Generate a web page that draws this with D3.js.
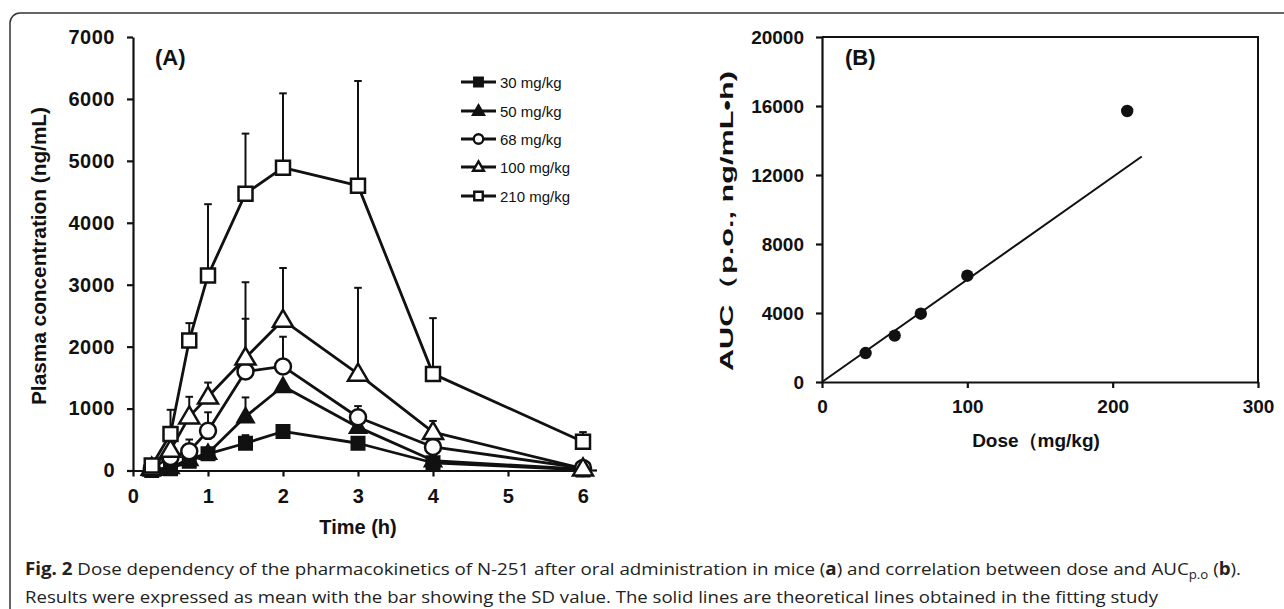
<!DOCTYPE html>
<html><head><meta charset="utf-8">
<script src="https://cdn.jsdelivr.net/npm/d3@7"></script>
<style>
html,body{margin:0;padding:0;background:#fff;}
svg{display:block;}
</style></head>
<body>
<svg id="c" width="1284" height="609"></svg>
<script>
// ---------- Data ----------
const times = [0.25, 0.5, 0.75, 1, 1.5, 2, 3, 4, 6];
const xTicksA = [0, 1, 2, 3, 4, 5, 6];
const yTicksA = [0, 1000, 2000, 3000, 4000, 5000, 6000, 7000];

const doseLabels = ["30 mg/kg", "50 mg/kg", "68 mg/kg", "100 mg/kg", "210 mg/kg"];
const conc30  = [0, 30, 150, 270, 440, 630, 440, 125, 10];
const sd30    = [0, 0, 0, 0, 130, 70, 0, 0, 0];
const conc50  = [10, 50, 180, 280, 870, 1360, 700, 160, 20];
const sd50    = [0, 0, 0, 0, 310, 0, 0, 0, 0];
const conc68  = [30, 220, 310, 640, 1600, 1680, 860, 380, 40];
const sd68    = [0, 0, 190, 300, 850, 480, 180, 0, 0];
const conc100 = [40, 330, 870, 1190, 1820, 2430, 1560, 620, 30];
const sd100   = [0, 0, 320, 230, 1220, 840, 1390, 180, 0];
const conc210 = [80, 590, 2100, 3150, 4470, 4890, 4600, 1560, 465];
const sd210   = [0, 390, 280, 1150, 970, 1200, 1690, 900, 155];

const doses = [30, 50, 68, 100, 210];
const aucValues = [1680, 2690, 3960, 6160, 15710];
const fitDose = [0, 220];
const fitAuc = [0, 13070];
const xTicksB = [0, 100, 200, 300];
const yTicksB = [0, 4000, 8000, 12000, 16000, 20000];

const seriesA = [
  {label: doseLabels[0], mean: conc30,  sd: sd30,  shape: "square",   fill: "#111"},
  {label: doseLabels[1], mean: conc50,  sd: sd50,  shape: "triangle", fill: "#111"},
  {label: doseLabels[2], mean: conc68,  sd: sd68,  shape: "circle",   fill: "#fff"},
  {label: doseLabels[3], mean: conc100, sd: sd100, shape: "triangle", fill: "#fff"},
  {label: doseLabels[4], mean: conc210, sd: sd210, shape: "square",   fill: "#fff"}
];

// ---------- Setup ----------
const svg = d3.select("#c");
const FONT = "'Liberation Sans', Arial, sans-serif";
const INK = "#111";

svg.append("rect").attr("width",1284).attr("height",609).attr("fill","#fff");
// outer frame
svg.append("rect").attr("x",10).attr("y",13).attr("width",1320).attr("height",640)
  .attr("rx",10).attr("fill","none").attr("stroke","#333").attr("stroke-width",1.5);

function markerPath(shape, big){
  if (shape === "square") { const s = big ? 14 : 12.5; return `M${-s/2},${-s/2}h${s}v${s}h${-s}Z`; }
  if (shape === "triangle") { const w = big ? 20 : 16, h = big ? 17 : 14; return `M0,${-h*0.6}L${w/2},${h*0.4}L${-w/2},${h*0.4}Z`; }
  const r = big ? 8 : 7; return `M${r},0A${r},${r} 0 1,1 ${-r},0A${r},${r} 0 1,1 ${r},0Z`;
}

// ---------- Panel A ----------
const xA = d3.scaleLinear().domain([0, 6]).range([133, 583]);
const yA = d3.scaleLinear().domain([0, 7000]).range([470.5, 37]);
const gA = svg.append("g");

const axYA = gA.append("g").attr("transform","translate(133,0)")
  .call(d3.axisLeft(yA).tickValues(yTicksA).tickSize(6).tickSizeOuter(0).tickPadding(12).tickFormat(d3.format("d")));
const axXA = gA.append("g").attr("transform","translate(0,470.5)")
  .call(d3.axisBottom(xA).tickValues(xTicksA).tickSize(6).tickSizeOuter(0).tickPadding(12).tickFormat(d3.format("d")));
gA.append("line").attr("x1",xA(6)).attr("x2",597).attr("y1",470.5).attr("y2",470.5)
  .attr("stroke",INK).attr("stroke-width",2.2);
[axYA, axXA].forEach(a => {
  a.selectAll("path,line").attr("stroke",INK).attr("stroke-width",2.2);
  a.selectAll("text").attr("fill",INK).style("font-family",FONT).style("font-weight","bold")
   .style("font-size","20px").style("letter-spacing","0.5px");
});

const lineA = d3.line().x((d,i)=>xA(times[i])).y(d=>yA(d));
seriesA.forEach(s => {
  gA.append("path").attr("d", lineA(s.mean)).attr("fill","none")
    .attr("stroke",INK).attr("stroke-width",2.8).attr("stroke-linejoin","round");
});
seriesA.forEach(s => {
  s.mean.forEach((m,i) => {
    if (!s.sd[i]) return;
    const x = xA(times[i]), y0 = yA(m), y1 = yA(m + s.sd[i]);
    gA.append("line").attr("x1",x).attr("x2",x).attr("y1",y0).attr("y2",y1).attr("stroke",INK).attr("stroke-width",2);
    gA.append("line").attr("x1",x-3.8).attr("x2",x+3.8).attr("y1",y1).attr("y2",y1).attr("stroke",INK).attr("stroke-width",2);
  });
});
seriesA.forEach(s => {
  s.mean.forEach((m,i) => {
    gA.append("path").attr("d", markerPath(s.shape, s.fill === "#fff"))
      .attr("transform",`translate(${xA(times[i])},${yA(m)})`)
      .attr("fill",s.fill).attr("stroke",INK).attr("stroke-width",2.5);
  });
});

gA.append("text").attr("x",155).attr("y",65).text("(A)")
  .style("font-family",FONT).style("font-weight","bold").style("font-size","22px").attr("fill",INK);
gA.append("text").attr("transform","translate(46,256) rotate(-90)").attr("text-anchor","middle")
  .attr("textLength",298).attr("lengthAdjust","spacingAndGlyphs")
  .text("Plasma concentration (ng/mL)")
  .style("font-family",FONT).style("font-weight","bold").style("font-size","20px").attr("fill",INK);
gA.append("text").attr("x",358).attr("y",534).attr("text-anchor","middle").text("Time (h)")
  .style("font-family",FONT).style("font-weight","bold").style("font-size","20px").attr("fill",INK);

// legend
const legRows = [82, 111, 139, 167, 196];
seriesA.forEach((s,i) => {
  const y = legRows[i];
  gA.append("line").attr("x1",461).attr("x2",496).attr("y1",y).attr("y2",y).attr("stroke",INK).attr("stroke-width",3);
  const sc = 0.68;
  gA.append("path").attr("d", markerPath(s.shape, false))
    .attr("transform",`translate(478.5,${y}) scale(${sc})`)
    .attr("fill",s.fill).attr("stroke",INK).attr("stroke-width",3.5);
  gA.append("text").attr("x",500).attr("y",y+5.5).text(s.label)
    .style("font-family",FONT).style("font-size","15px").attr("fill",INK);
});

// ---------- Panel B ----------
const xB = d3.scaleLinear().domain([0, 300]).range([822, 1258]);
const yB = d3.scaleLinear().domain([0, 20000]).range([382, 37]);
const gB = svg.append("g");

gB.append("path").attr("d",`M${xB(0)},${yB(20000)}H${xB(300)}V${yB(0)}`)
  .attr("fill","none").attr("stroke",INK).attr("stroke-width",2);
const axYB = gB.append("g").attr("transform",`translate(${xB(0)},0)`)
  .call(d3.axisLeft(yB).tickValues(yTicksB).tickSize(6).tickSizeOuter(0).tickPadding(12).tickFormat(d3.format("d")));
const axXB = gB.append("g").attr("transform",`translate(0,${yB(0)})`)
  .call(d3.axisBottom(xB).tickValues(xTicksB).tickSize(6).tickSizeOuter(0).tickPadding(12).tickFormat(d3.format("d")));
[axYB, axXB].forEach(a => {
  a.selectAll("path,line").attr("stroke",INK).attr("stroke-width",2.2);
  a.selectAll("text").attr("fill",INK).style("font-family",FONT).style("font-weight","bold").style("font-size","19px");
});

gB.append("path").attr("d", d3.line()(fitDose.map((d,i)=>[xB(d), yB(fitAuc[i])])))
  .attr("stroke",INK).attr("stroke-width",2).attr("fill","none");
doses.forEach((d,i) => {
  gB.append("circle").attr("cx",xB(d)).attr("cy",yB(aucValues[i])).attr("r",6.2).attr("fill",INK);
});

gB.append("text").attr("x",845).attr("y",65).text("(B)")
  .style("font-family",FONT).style("font-weight","bold").style("font-size","22px").attr("fill",INK);
gB.append("text").attr("transform","translate(733,221) rotate(-90)").attr("text-anchor","middle")
  .attr("textLength",300).attr("lengthAdjust","spacingAndGlyphs")
  .text("AUC（p.o., ng/mL•h)")
  .style("font-family",FONT).style("font-weight","bold").style("font-size","19px").attr("fill",INK);
gB.append("text").attr("x",1036).attr("y",447).attr("text-anchor","middle")
  .text("Dose（mg/kg)")
  .style("font-family",FONT).style("font-weight","bold").style("font-size","19px").attr("fill",INK);

// ---------- Caption ----------
const CAP = "'Open Sans', 'Noto Sans', sans-serif";
const c1 = svg.append("text").attr("x",25).attr("y",575)
  .attr("textLength",1216).attr("lengthAdjust","spacingAndGlyphs")
  .style("font-family",CAP).style("font-size","17px").attr("fill","#222");
c1.append("tspan").style("font-weight","bold").text("Fig. 2");
c1.append("tspan").text(" Dose dependency of the pharmacokinetics of N-251 after oral administration in mice (");
c1.append("tspan").style("font-weight","bold").text("a");
c1.append("tspan").text(") and correlation between dose and AUC");
c1.append("tspan").attr("dy",4).style("font-size","12px").text("p.o");
c1.append("tspan").attr("dy",-4).text(" (");
c1.append("tspan").style("font-weight","bold").text("b");
c1.append("tspan").text(").");

svg.append("text").attr("x",25).attr("y",603)
  .attr("textLength",1133).attr("lengthAdjust","spacingAndGlyphs")
  .style("font-family",CAP).style("font-size","17px").attr("fill","#222")
  .text("Results were expressed as mean with the bar showing the SD value. The solid lines are theoretical lines obtained in the fitting study");
</script>
</body></html>
